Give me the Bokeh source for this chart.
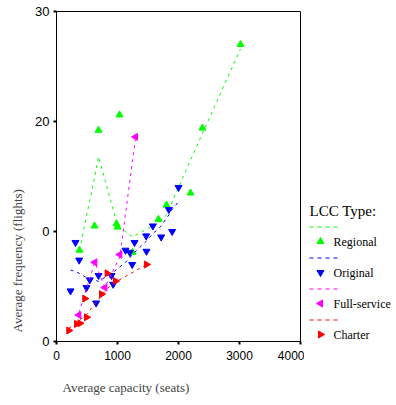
import math
from bokeh.plotting import figure
from bokeh.layouts import row
from bokeh.models import Range1d, Title, FixedTicker
from bokeh.core.properties import value
from bokeh.embed import file_html
from bokeh.resources import INLINE

# ---------------- data ----------------
x_ticks = [0, 1000, 2000, 3000, 4000]
y_ticks = [0, 10, 20, 30]
y_tick_labels = {0: "0", 10: "0", 20: "20", 30: "30"}

regional_x = [377, 623, 689, 984, 1000, 1033, 1246, 1672, 1803, 2197, 2393, 3016]
regional_y = [8.3, 10.5, 19.2, 10.7, 10.4, 20.6, 8.1, 11.1, 12.4, 13.5, 19.4, 27.0]
regional_fit = [8.3, 14.9, 16.8, 10.9, 10.6, 10.4, 9.5, 10.8, 11.5, 16.5, 18.9, 26.6]

original_x = [230, 311, 372, 492, 546, 650, 689, 902, 929, 1131, 1202, 1241, 1279,
              1470, 1475, 1579, 1716, 1841, 1896, 2000]
original_y = [4.6, 9.0, 7.4, 4.9, 5.6, 3.5, 6.0, 6.0, 5.2, 8.3, 8.1, 7.0, 9.0,
              9.6, 8.2, 10.5, 9.5, 12.0, 10.0, 14.0]
original_fit = [6.5, 6.35, 6.2, 5.8, 5.7, 5.55, 5.45, 6.2, 6.3, 7.2, 7.6, 7.9, 8.1,
                9.1, 9.15, 9.8, 10.5, 11.5, 12.0, 12.7]

fullservice_x = [366, 628, 792, 1038, 1295]
fullservice_y = [2.4, 7.2, 4.9, 7.9, 18.6]
fullservice_fit = [2.6, 7.2, 4.9, 7.7, 18.5]

charter_x = [202, 330, 385, 464, 492, 738, 830, 967, 1475]
charter_y = [1.0, 1.6, 1.65, 3.9, 2.2, 4.3, 6.2, 5.5, 7.0]
charter_fit = [1.2, 1.7, 2.0, 2.3, 2.45, 4.2, 4.8, 5.4, 7.0]

legend_title = "LCC Type:"
groups = [
    ("Regional", regional_x, regional_y, regional_fit, "#00FF00", "triangle", 0.0),
    ("Original", original_x, original_y, original_fit, "#0000FF", "inverted_triangle", 0.0),
    ("Full-service", fullservice_x, fullservice_y, fullservice_fit, "#FF00FF", "triangle", math.pi / 2),
    ("Charter", charter_x, charter_y, charter_fit, "#FF0000", "triangle", -math.pi / 2),
]

SERIF = "Liberation Serif"
SANS = "Liberation Sans"

# ---------------- main plot ----------------
p = figure(frame_width=244, frame_height=330, output_backend="svg",
           toolbar_location=None,
           x_range=Range1d(0, 4000), y_range=Range1d(0, 30),
           min_border_left=56, min_border_right=4, min_border_top=11,
           min_border_bottom=59)
p.title.visible = False
p.xgrid.visible = False
p.ygrid.visible = False
p.outline_line_color = "black"
p.outline_line_width = 1
p.outline_line_alpha = 1
p.background_fill_color = "white"

for ax in (p.xaxis[0], p.yaxis[0]):
    ax.axis_line_color = "black"
    ax.axis_line_width = 1
    ax.major_tick_in = 0
    ax.major_tick_out = 3
    ax.major_tick_line_width = 2
    ax.minor_tick_line_color = None
    ax.major_label_text_font = SANS
    ax.major_label_text_color = "black"

p.xaxis.major_label_standoff = 6
p.yaxis.major_label_standoff = 4
p.xaxis.ticker = FixedTicker(ticks=x_ticks)
p.yaxis.ticker = FixedTicker(ticks=y_ticks)
p.yaxis.major_label_overrides = y_tick_labels
p.xaxis.major_label_text_font_size = "12px"
p.yaxis.major_label_text_font_size = "13px"

for name, xs, ys, fit, color, marker, ang in groups:
    p.line(xs, fit, line_color=color, line_width=1, line_dash="3 4")
    p.scatter(xs, ys, marker=marker, angle=ang, size=7,
              fill_color=color, line_color=color)

xt = Title(text="Average capacity (seats)", align="left", offset=6,
           text_font=SERIF, text_font_size="13px", text_font_style="normal",
           standoff=31)
p.add_layout(xt, "below")
yt = Title(text="Average frequency (flights)", align="left", offset=9,
           text_font=SERIF, text_font_size="13px", text_font_style="normal",
           standoff=15)
p.add_layout(yt, "left")

# ---------------- legend panel (page-pixel coordinates, y negated) ----------------
X0, X1 = 304, 392
lg = figure(frame_width=X1 - X0, frame_height=330, output_backend="svg",
            toolbar_location=None,
            x_range=Range1d(X0, X1), y_range=Range1d(-341, -11),
            x_axis_type=None, y_axis_type=None,
            min_border_left=0, min_border_right=0,
            min_border_top=11, min_border_bottom=59)
lg.title.visible = False
lg.grid.visible = False
lg.outline_line_color = None

lg.text(x=[309], y=[-210], text=[legend_title], text_font=value(SERIF),
        text_font_size="15px", text_baseline="middle", text_align="left",
        text_color="black")
for i, (name, xs, ys, fit, color, marker, ang) in enumerate(groups):
    ly = -(226.5 + 31 * i)
    my = -(241 + 31 * i)
    lg.line([309, 337], [ly, ly], line_color=color, line_width=1, line_dash="4 4")
    lg.scatter([320], [my], marker=marker, angle=ang, size=7,
               fill_color=color, line_color=color)
    lg.text(x=[333], y=[my], text=[name], text_font=value(SERIF),
            text_font_size="12px", text_baseline="middle", text_align="left",
            text_color="black")

layout = row(p, lg, spacing=0)
open("out.html", "w").write(file_html(layout, INLINE))
